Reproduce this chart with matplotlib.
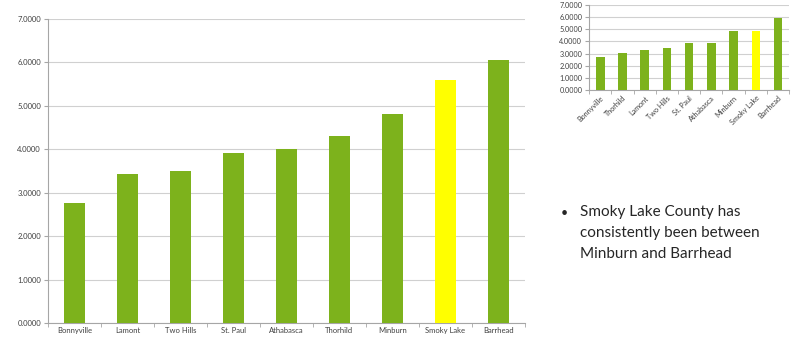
import matplotlib.pyplot as plt
import numpy as np

# main chart
main_names = ["Bonnyville", "Lamont", "Two Hills", "St. Paul", "Athabasca",
              "Thorhild", "Minburn", "Smoky Lake", "Barrhead"]
main_values = [2.76, 3.43, 3.50, 3.91, 4.00, 4.31, 4.80, 5.60, 6.06]

# small inset chart
small_names = ["Bonnyville", "Thorhild", "Lamont", "Two Hills", "St. Paul",
               "Athabasca", "Minburn", "Smoky Lake", "Barrhead"]
small_values = [2.71, 3.09, 3.31, 3.50, 3.88, 3.91, 4.87, 4.87, 5.91]

highlight = "Smoky Lake"
green = "#7DB21C"
yellow = "#FFFF00"
grid_col = "#D0D0D0"
axis_col = "#A6A6A6"

plt.rcParams['font.family'] = ['Lato', 'DejaVu Sans']

fig = plt.figure(figsize=(7.93, 3.5), dpi=100)


def draw(ax, names, values, width, fs, rot):
    x = np.arange(len(names))
    colors = [yellow if n == highlight else green for n in names]
    ax.bar(x, values, width=width, color=colors, zorder=3)
    ax.set_ylim(0, 7)
    ax.set_xlim(-0.5, len(names) - 0.5)
    ax.set_yticks(np.arange(0, 8, 1))
    ax.set_yticklabels([f"{v:.4f}" for v in range(8)], fontsize=fs, color="#404040")
    ax.yaxis.grid(True, color=grid_col, linewidth=0.8, zorder=0)
    ax.set_xticks(x)
    if rot:
        ax.set_xticklabels(names, fontsize=fs, rotation=45, ha='right',
                           rotation_mode='anchor', color="#404040")
    else:
        ax.set_xticklabels(names, fontsize=fs, color="#404040")
    ax.tick_params(axis='x', length=0, pad=3)
    ax.set_xticks(np.arange(-0.5, len(names)), minor=True)
    ax.tick_params(axis='x', which='minor', length=3, color=axis_col)
    ax.tick_params(axis='y', length=3, color=axis_col, pad=2)
    for s in ["top", "right"]:
        ax.spines[s].set_visible(False)
    for s in ["left", "bottom"]:
        ax.spines[s].set_color(axis_col)
        ax.spines[s].set_linewidth(0.8)


ax1 = fig.add_axes([0.0605, 0.077, 0.601, 0.869])
draw(ax1, main_names, main_values, 0.4, 5.5, False)

ax2 = fig.add_axes([0.743, 0.742, 0.252, 0.244])
draw(ax2, small_names, small_values, 0.38, 5.2, True)

fig.text(0.707, 0.392, "\u2022", fontsize=9, color="#262626", va='center')
fig.text(0.731, 0.413, "Smoky Lake County has\nconsistently been between\nMinburn and Barrhead",
         fontsize=11, color="#262626", va='top', ha='left', linespacing=1.6)

fig.savefig("out.png", dpi=100)
